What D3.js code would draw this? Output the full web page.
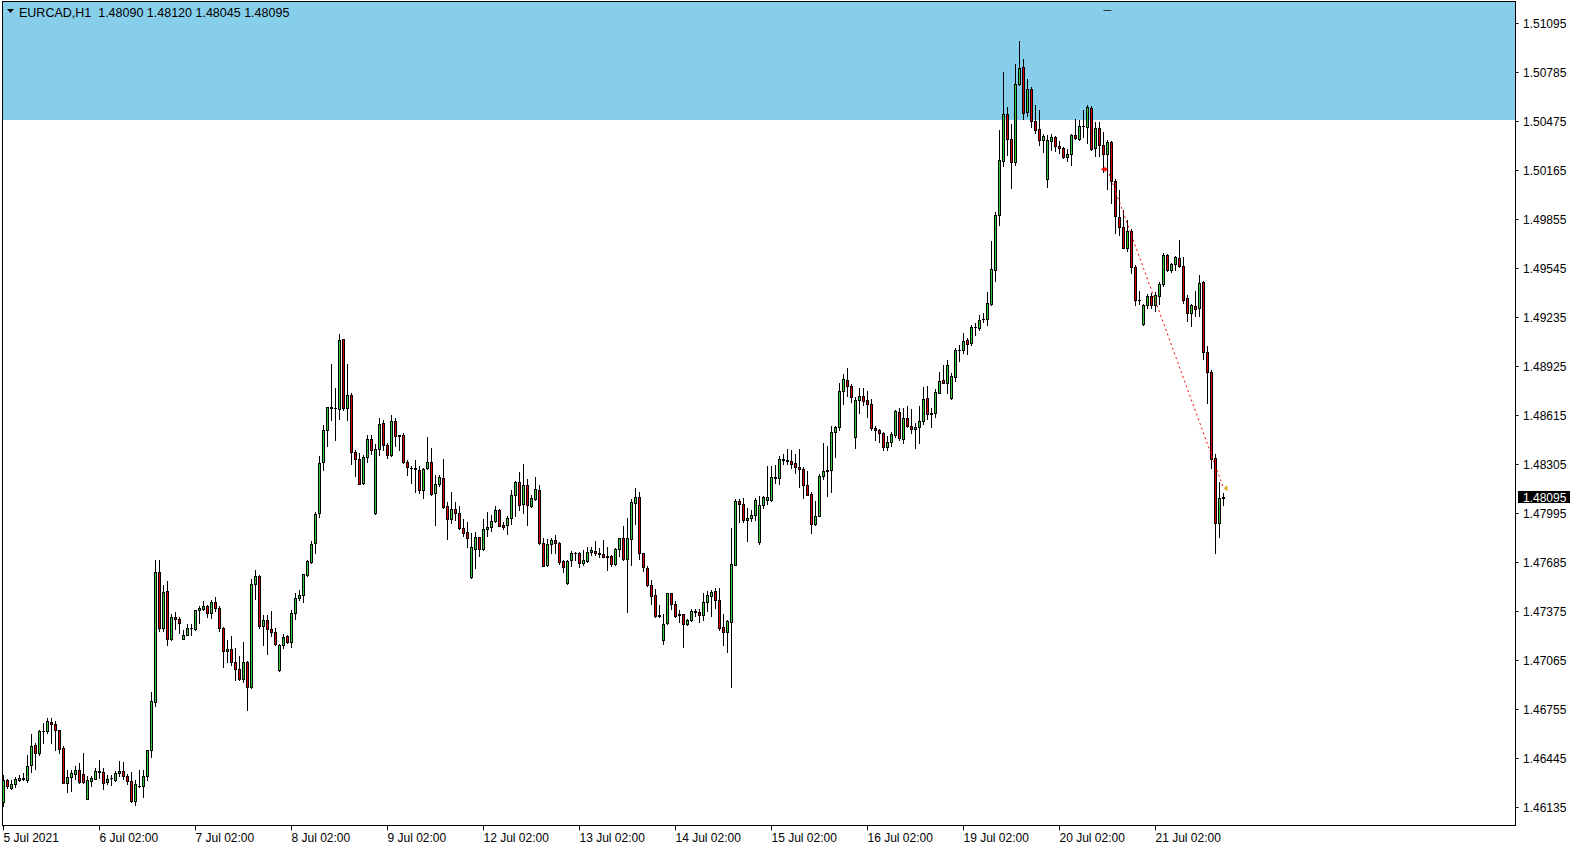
<!DOCTYPE html>
<html><head><meta charset="utf-8">
<script src="https://cdn.jsdelivr.net/npm/d3@7"></script>
<style>
html,body{margin:0;padding:0;background:#fff;overflow:hidden}
svg text{font-family:"Liberation Sans",Arial,sans-serif;font-size:12px;fill:#000}
</style>
</head><body>
<svg id="c" width="1580" height="850"></svg>
<script>
const symbolLabel = "EURCAD,H1";
const lastQuote = [1.48090, 1.48120, 1.48045, 1.48095];
const dayLabels = ["5 Jul 2021","6 Jul 02:00","7 Jul 02:00","8 Jul 02:00","9 Jul 02:00","12 Jul 02:00","13 Jul 02:00","14 Jul 02:00","15 Jul 02:00","16 Jul 02:00","19 Jul 02:00","20 Jul 02:00","21 Jul 02:00"];
const dayStartBars = [0,24,48,72,96,120,144,168,192,216,240,264,288];
const priceTicks = [1.51095,1.50785,1.50475,1.50165,1.49855,1.49545,1.49235,1.48925,1.48615,1.48305,1.47995,1.47685,1.47375,1.47065,1.46755,1.46445,1.46135];
const zoneTop = 1.5125, zoneBottom = 1.50482;
const tradeEntry = {bar: 276, price: 1.50173, stop: 1.51180};
const tradeExit = {bar: 305, price: 1.48155};

const opens = [
1.46166,1.46307,1.46258,1.46280,1.46307,1.46315,1.46307,1.46402,1.46529,1.46474,
1.46613,1.46613,1.46674,1.46662,1.46622,1.46508,1.46286,1.46322,1.46345,1.46368,
1.46343,1.46185,1.46302,1.46315,1.46364,1.46356,1.46290,1.46317,1.46307,1.46347,
1.46364,1.46332,1.46300,1.46170,1.46271,1.46269,1.46328,1.46495,1.46801,1.47622,
1.47265,1.47503,1.47195,1.47338,1.47323,1.47201,1.47226,1.47266,1.47258,1.47380,
1.47385,1.47406,1.47362,1.47431,1.47395,1.47269,1.47120,1.47134,1.47052,1.47010,
1.46942,1.47054,1.46893,1.47545,1.47596,1.47277,1.47317,1.47263,1.47242,1.47001,
1.47159,1.47214,1.47178,1.47362,1.47455,1.47476,1.47602,1.47684,1.47805,1.47994,
1.48315,1.48522,1.48663,1.48659,1.48653,1.49096,1.48657,1.48741,1.48383,1.48336,
1.48184,1.48351,1.48465,1.47994,1.48399,1.48564,1.48427,1.48360,1.48579,1.48486,
1.48488,1.48319,1.48282,1.48278,1.48269,1.48138,1.48277,1.48317,1.48119,1.48178,
1.48216,1.48037,1.47957,1.48020,1.47994,1.47901,1.47874,1.47589,1.47766,1.47842,
1.47766,1.47893,1.47906,1.47944,1.48015,1.47921,1.47918,1.47963,1.48108,1.48193,
1.48051,1.48174,1.48039,1.48083,1.48142,1.47804,1.47665,1.47798,1.47825,1.47804,
1.47693,1.47551,1.47697,1.47741,1.47741,1.47678,1.47693,1.47747,1.47756,1.47741,
1.47735,1.47722,1.47724,1.47672,1.47766,1.47838,1.47703,1.47829,1.48058,1.48096,
1.47741,1.47646,1.47539,1.47475,1.47347,1.47190,1.47296,1.47488,1.47418,1.47353,
1.47353,1.47290,1.47315,1.47372,1.47368,1.47347,1.47429,1.47473,1.47501,1.47446,
1.47275,1.47240,1.47303,1.47667,1.48071,1.48052,1.47948,1.47963,1.47984,1.47813,
1.48044,1.48079,1.48076,1.48216,1.48216,1.48330,1.48332,1.48325,1.48311,1.48288,
1.48275,1.48171,1.48117,1.47925,1.47975,1.48226,1.48260,1.48264,1.48505,1.48536,
1.48767,1.48836,1.48800,1.48473,1.48707,1.48737,1.48712,1.48686,1.48534,1.48520,
1.48503,1.48412,1.48444,1.48488,1.48634,1.48462,1.48595,1.48546,1.48525,1.48538,
1.48574,1.48721,1.48622,1.48630,1.48757,1.48837,1.48820,1.48721,1.48858,1.49025,
1.49027,1.49091,1.49070,1.49171,1.49164,1.49221,1.49221,1.49318,1.49530,1.49878,
1.50220,1.50521,1.50360,1.50215,1.50709,1.50816,1.50529,1.50679,1.50477,1.50424,
1.50352,1.50107,1.50346,1.50373,1.50318,1.50304,1.50247,1.50266,1.50388,1.50363,
1.50443,1.50437,1.50559,1.50304,1.50430,1.50325,1.50266,1.50340,1.50093,1.49867,
1.49804,1.49671,1.49781,1.49553,1.49340,1.49190,1.49308,1.49371,1.49312,1.49371,
1.49441,1.49629,1.49530,1.49570,1.49608,1.49559,1.49357,1.49260,1.49306,1.49289,
1.49456,1.49015,1.48890,1.48342,1.47930,1.48090];

const highs = [
1.46337,1.46311,1.46307,1.46324,1.46337,1.46350,1.46465,1.46596,1.46543,1.46620,
1.46668,1.46697,1.46695,1.46676,1.46624,1.46522,1.46366,1.46366,1.46396,1.46413,
1.46476,1.46328,1.46328,1.46381,1.46432,1.46379,1.46337,1.46339,1.46364,1.46425,
1.46421,1.46345,1.46356,1.46307,1.46371,1.46366,1.46497,1.46862,1.47695,1.47695,
1.47541,1.47566,1.47355,1.47368,1.47338,1.47252,1.47292,1.47292,1.47382,1.47404,
1.47438,1.47414,1.47442,1.47465,1.47406,1.47273,1.47193,1.47214,1.47144,1.47092,
1.47178,1.47056,1.47579,1.47636,1.47600,1.47351,1.47351,1.47376,1.47267,1.47165,
1.47231,1.47225,1.47383,1.47488,1.47510,1.47611,1.47695,1.47819,1.47999,1.48357,
1.48551,1.48665,1.48940,1.48785,1.49130,1.49098,1.48940,1.48754,1.48391,1.48374,
1.48364,1.48490,1.48490,1.48433,1.48596,1.48585,1.48437,1.48615,1.48594,1.48490,
1.48503,1.48332,1.48290,1.48332,1.48290,1.48277,1.48473,1.48408,1.48237,1.48237,
1.48338,1.48062,1.48130,1.48062,1.48037,1.47960,1.47940,1.47868,1.47872,1.47846,
1.47958,1.48003,1.47984,1.48037,1.48020,1.47935,1.47973,1.48142,1.48199,1.48256,
1.48307,1.48212,1.48110,1.48224,1.48174,1.47836,1.47829,1.47836,1.47857,1.47809,
1.47699,1.47697,1.47756,1.47747,1.47750,1.47762,1.47777,1.47783,1.47821,1.47771,
1.47825,1.47777,1.47728,1.47771,1.47840,1.47914,1.47965,1.48085,1.48153,1.48125,
1.47745,1.47657,1.47573,1.47516,1.47412,1.47357,1.47490,1.47490,1.47439,1.47383,
1.47357,1.47324,1.47389,1.47387,1.47387,1.47488,1.47503,1.47509,1.47520,1.47520,
1.47355,1.47320,1.47900,1.48083,1.48083,1.48087,1.48026,1.48015,1.48090,1.48104,
1.48100,1.48290,1.48290,1.48301,1.48353,1.48370,1.48401,1.48395,1.48370,1.48401,
1.48283,1.48262,1.48125,1.48068,1.48243,1.48441,1.48420,1.48547,1.48547,1.48817,
1.48876,1.48912,1.48811,1.48728,1.48785,1.48785,1.48764,1.48716,1.48543,1.48526,
1.48505,1.48484,1.48505,1.48644,1.48659,1.48658,1.48673,1.48652,1.48563,1.48673,
1.48791,1.48799,1.48658,1.48778,1.48890,1.48932,1.48964,1.48879,1.49038,1.49059,
1.49133,1.49101,1.49183,1.49200,1.49249,1.49259,1.49392,1.49713,1.49897,1.50416,
1.50783,1.50563,1.50456,1.50837,1.50979,1.50867,1.50742,1.50690,1.50578,1.50546,
1.50394,1.50388,1.50392,1.50382,1.50346,1.50310,1.50297,1.50394,1.50487,1.50483,
1.50542,1.50578,1.50567,1.50468,1.50468,1.50405,1.50352,1.50350,1.50108,1.50040,
1.49914,1.49850,1.49793,1.49561,1.49401,1.49316,1.49382,1.49386,1.49392,1.49456,
1.49641,1.49633,1.49576,1.49622,1.49724,1.49614,1.49376,1.49319,1.49401,1.49502,
1.49460,1.49049,1.48897,1.48369,1.48190,1.48120];

const lows = [
1.46140,1.46258,1.46248,1.46261,1.46300,1.46307,1.46290,1.46354,1.46375,1.46467,
1.46543,1.46603,1.46543,1.46493,1.46476,1.46284,1.46227,1.46235,1.46311,1.46286,
1.46286,1.46183,1.46269,1.46311,1.46319,1.46252,1.46280,1.46275,1.46300,1.46328,
1.46315,1.46282,1.46166,1.46145,1.46263,1.46197,1.46307,1.46449,1.46771,1.47246,
1.47250,1.47163,1.47190,1.47258,1.47233,1.47197,1.47220,1.47220,1.47252,1.47302,
1.47380,1.47336,1.47328,1.47376,1.47246,1.47018,1.47050,1.47033,1.46936,1.46936,
1.46923,1.46746,1.46890,1.47450,1.47265,1.47157,1.47102,1.47214,1.47157,1.46998,
1.47138,1.47170,1.47146,1.47323,1.47442,1.47435,1.47598,1.47680,1.47739,1.47967,
1.48264,1.48416,1.48581,1.48454,1.48590,1.48644,1.48581,1.48304,1.48227,1.48176,
1.48180,1.48315,1.48366,1.47990,1.48362,1.48391,1.48340,1.48353,1.48416,1.48391,
1.48311,1.48233,1.48182,1.48125,1.48121,1.48090,1.48273,1.48111,1.47917,1.48163,
1.48026,1.47828,1.47931,1.47952,1.47893,1.47847,1.47777,1.47585,1.47646,1.47726,
1.47760,1.47847,1.47878,1.47935,1.47910,1.47895,1.47859,1.47923,1.47975,1.48011,
1.47996,1.47916,1.48032,1.48080,1.47800,1.47657,1.47660,1.47740,1.47740,1.47672,
1.47619,1.47547,1.47657,1.47699,1.47652,1.47667,1.47682,1.47728,1.47728,1.47716,
1.47714,1.47632,1.47657,1.47667,1.47720,1.47699,1.47366,1.47663,1.47927,1.47705,
1.47625,1.47530,1.47418,1.47334,1.47334,1.47169,1.47294,1.47387,1.47334,1.47303,
1.47150,1.47284,1.47309,1.47345,1.47303,1.47320,1.47378,1.47341,1.47397,1.47256,
1.47163,1.47113,1.46897,1.47663,1.47935,1.47935,1.47819,1.47942,1.47952,1.47800,
1.48026,1.48051,1.48074,1.48184,1.48176,1.48304,1.48306,1.48277,1.48247,1.48159,
1.48089,1.48106,1.47868,1.47920,1.47973,1.48210,1.48100,1.48125,1.48347,1.48522,
1.48684,1.48737,1.48695,1.48408,1.48627,1.48680,1.48602,1.48522,1.48456,1.48446,
1.48391,1.48393,1.48421,1.48475,1.48458,1.48436,1.48542,1.48504,1.48405,1.48436,
1.48557,1.48588,1.48542,1.48605,1.48753,1.48816,1.48753,1.48717,1.48833,1.48959,
1.49006,1.48998,1.49059,1.49122,1.49154,1.49206,1.49185,1.49312,1.49460,1.49814,
1.50192,1.50262,1.50050,1.50194,1.50705,1.50489,1.50504,1.50440,1.50399,1.50325,
1.50278,1.50057,1.50289,1.50287,1.50272,1.50241,1.50220,1.50198,1.50363,1.50352,
1.50373,1.50335,1.50293,1.50251,1.50251,1.50150,1.50044,1.49956,1.49766,1.49753,
1.49669,1.49650,1.49513,1.49308,1.49319,1.49186,1.49295,1.49291,1.49276,1.49319,
1.49428,1.49523,1.49517,1.49534,1.49551,1.49323,1.49211,1.49175,1.49239,1.49239,
1.48971,1.48690,1.48278,1.47741,1.47842,1.48045];

const closes = [
1.46307,1.46265,1.46280,1.46311,1.46317,1.46317,1.46396,1.46520,1.46476,1.46615,
1.46615,1.46676,1.46660,1.46620,1.46505,1.46286,1.46324,1.46350,1.46371,1.46290,
1.46290,1.46307,1.46319,1.46364,1.46354,1.46286,1.46313,1.46319,1.46350,1.46364,
1.46328,1.46298,1.46170,1.46280,1.46269,1.46328,1.46495,1.46805,1.47622,1.47265,
1.47497,1.47195,1.47338,1.47323,1.47296,1.47222,1.47266,1.47268,1.47380,1.47395,
1.47408,1.47362,1.47433,1.47393,1.47265,1.47120,1.47136,1.47050,1.47005,1.46942,
1.47052,1.46893,1.47545,1.47596,1.47277,1.47317,1.47258,1.47239,1.47168,1.47161,
1.47210,1.47176,1.47362,1.47459,1.47476,1.47609,1.47693,1.47798,1.47990,1.48310,
1.48522,1.48663,1.48661,1.48661,1.49090,1.48657,1.48741,1.48380,1.48336,1.48180,
1.48351,1.48465,1.48393,1.48399,1.48558,1.48423,1.48360,1.48579,1.48482,1.48482,
1.48317,1.48288,1.48280,1.48276,1.48138,1.48273,1.48317,1.48115,1.48178,1.48224,
1.48030,1.47959,1.48020,1.47992,1.47899,1.47868,1.47840,1.47779,1.47842,1.47766,
1.47893,1.47906,1.47946,1.48015,1.47912,1.47908,1.47963,1.48110,1.48193,1.48045,
1.48174,1.48045,1.48090,1.48148,1.47804,1.47661,1.47798,1.47825,1.47804,1.47684,
1.47651,1.47693,1.47741,1.47743,1.47678,1.47697,1.47747,1.47762,1.47739,1.47733,
1.47716,1.47718,1.47672,1.47766,1.47838,1.47707,1.47838,1.48062,1.48098,1.47741,
1.47653,1.47537,1.47473,1.47345,1.47345,1.47292,1.47488,1.47418,1.47345,1.47351,
1.47294,1.47320,1.47374,1.47370,1.47347,1.47431,1.47475,1.47494,1.47446,1.47265,
1.47240,1.47313,1.47672,1.48071,1.48050,1.47948,1.47963,1.47984,1.48079,1.48047,
1.48096,1.48096,1.48224,1.48224,1.48338,1.48338,1.48321,1.48306,1.48283,1.48273,
1.48171,1.48112,1.47925,1.47975,1.48231,1.48260,1.48268,1.48509,1.48539,1.48767,
1.48842,1.48800,1.48726,1.48707,1.48737,1.48701,1.48682,1.48530,1.48517,1.48501,
1.48410,1.48446,1.48496,1.48638,1.48467,1.48595,1.48548,1.48525,1.48538,1.48578,
1.48715,1.48620,1.48630,1.48759,1.48833,1.48820,1.48932,1.48862,1.49027,1.49027,
1.49086,1.49067,1.49171,1.49173,1.49213,1.49223,1.49323,1.49538,1.49882,1.50230,
1.50521,1.50361,1.50215,1.50709,1.50812,1.50523,1.50679,1.50472,1.50415,1.50352,
1.50380,1.50354,1.50373,1.50314,1.50302,1.50247,1.50266,1.50388,1.50367,1.50445,
1.50445,1.50563,1.50300,1.50430,1.50325,1.50266,1.50342,1.50093,1.49871,1.49804,
1.49671,1.49776,1.49551,1.49340,1.49342,1.49312,1.49369,1.49312,1.49373,1.49445,
1.49629,1.49530,1.49572,1.49612,1.49555,1.49344,1.49260,1.49312,1.49285,1.49449,
1.49013,1.48884,1.48335,1.47930,1.48089,1.48095];

// ---------- drawing ----------
const svg = d3.select("#c");
const L = 2.5, R = 1515.5, T = 1.5, B = 825.5;
const n = closes.length;
const x = d3.scaleLinear().domain([0, n - 1]).range([3.5, 3.5 + 4 * (n - 1)]);
const y = d3.scaleLinear().domain([1.46135, 1.51095]).range([807.5, 23.5]);
const py = v => Math.round(y(v) - 0.5) + 0.5;

svg.append("defs").append("clipPath").attr("id", "plotClip")
  .append("rect").attr("x", L).attr("y", T).attr("width", R - L).attr("height", B - T);

const plot = svg.append("g").attr("clip-path", "url(#plotClip)");

// resistance zone
const zTop = Math.max(T, y(zoneTop));
plot.append("rect").attr("x", L).attr("y", zTop)
  .attr("width", R - L).attr("height", Math.round(y(zoneBottom)) - zTop)
  .attr("fill", "#87ceeb");

// candles
const bars = d3.range(n).map(i => ({i, o: opens[i], h: highs[i], l: lows[i], c: closes[i]}));
const cg = plot.append("g");
const candle = cg.selectAll("g").data(bars).join("g");
candle.append("line")
  .attr("x1", d => x(d.i)).attr("x2", d => x(d.i))
  .attr("y1", d => py(d.h) - 0.5).attr("y2", d => py(d.l) + 0.5)
  .attr("stroke", "#000").attr("stroke-width", 1);
candle.each(function(d) {
  const g = d3.select(this);
  const yo = py(d.o), yc = py(d.c);
  if (Math.abs(yo - yc) < 1) {
    g.append("line").attr("x1", x(d.i) - 1.5).attr("x2", x(d.i) + 1.5)
      .attr("y1", yo).attr("y2", yo).attr("stroke", "#000");
  } else {
    g.append("rect").attr("x", x(d.i) - 1).attr("width", 2)
      .attr("y", Math.min(yo, yc)).attr("height", Math.abs(yo - yc))
      .attr("fill", d.c > d.o ? "#32cd32" : "#e00000")
      .attr("stroke", "#000").attr("stroke-width", 1);
  }
});

// trade line and arrows
const ex = x(tradeEntry.bar), ey = y(tradeEntry.price);
const xx = x(tradeExit.bar), xy = y(tradeExit.price);
plot.append("line").attr("x1", ex).attr("y1", ey).attr("x2", xx).attr("y2", xy)
  .attr("stroke", "#ff0000").attr("stroke-width", 1).attr("stroke-dasharray", "2,3");
plot.append("path")
  .attr("d", `M${ex},${ey} L${ex-3},${ey-3} L${ex-3},${ey-1} L${ex-6},${ey-1} L${ex-6},${ey+1} L${ex-3},${ey+1} L${ex-3},${ey+3} Z`)
  .attr("fill", "#ff0000");
plot.append("path")
  .attr("d", `M${xx},${xy} L${xx+4},${xy-3} L${xx+4},${xy+3} Z`)
  .attr("fill", "#daa520");
// stop-loss dash of the trade
const sy = py(tradeEntry.stop);
plot.append("line").attr("x1", ex - 4).attr("x2", ex + 4).attr("y1", sy).attr("y2", sy)
  .attr("stroke", "#333333").attr("stroke-width", 1);

// frame
svg.append("rect").attr("x", L).attr("y", T).attr("width", R - L).attr("height", B - T)
  .attr("fill", "none").attr("stroke", "#000").attr("stroke-width", 1);

// time axis
const xAxis = d3.axisBottom(x).tickValues(dayStartBars)
  .tickFormat((d, i) => dayLabels[i]).tickSize(5).tickSizeOuter(0).offset(0);
svg.append("g").attr("transform", `translate(0,${B})`).call(xAxis)
  .call(g => g.select(".domain").remove())
  .call(g => g.selectAll("text").attr("text-anchor", "start").attr("x", 0).attr("y", 16).attr("dy", null));

// price axis
const yAxis = d3.axisRight(y).tickValues(priceTicks).tickFormat(d3.format(".5f"))
  .tickSize(3).tickSizeOuter(0).offset(0);
svg.append("g").attr("transform", `translate(${R},0)`).call(yAxis)
  .call(g => g.select(".domain").remove())
  .call(g => g.selectAll("text").attr("x", 7.5).attr("dy", "0.34em"));

// current price label
const last = closes[n - 1];
const ly = y(last);
svg.append("rect").attr("x", 1518).attr("y", Math.round(ly) - 7).attr("width", 52).attr("height", 12).attr("fill", "#000");
svg.append("text").attr("x", 1523).attr("y", Math.round(ly) + 3.5).style("fill", "#fff").text(d3.format(".5f")(last));

// header
svg.append("path").attr("d", "M7,9 L14,9 L10.5,13 Z").attr("fill", "#000");
svg.append("text").attr("x", 19).attr("y", 17)
  .attr("xml:space", "preserve").style("white-space", "pre").style("font-size", "12.5px")
  .text(symbolLabel + "  " + lastQuote.map(d3.format(".5f")).join(" "));
</script>
</body></html>
